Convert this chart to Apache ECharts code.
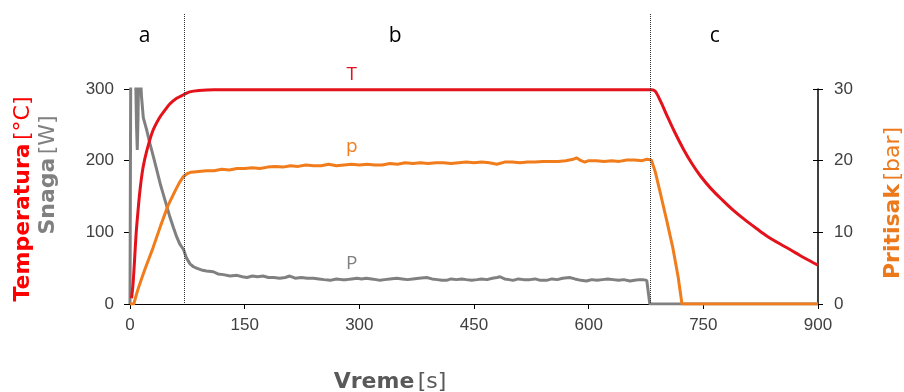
<!DOCTYPE html>
<html>
<head>
<meta charset="utf-8">
<script src="https://cdn.jsdelivr.net/npm/echarts@6/dist/echarts.min.js"></script>
<style>
  html, body { margin: 0; padding: 0; background: #fff; }
  #chart { width: 904px; height: 392px; }
</style>
</head>
<body>
<div id="chart"></div>
<script>
// Temperature T [°C] (left axis)
const tempTime  = [2, 4, 6, 8, 10, 13, 17, 22, 30, 38, 44, 52, 61, 70, 78, 90, 110, 160, 250, 350, 450, 550, 650, 682,
                   687, 694, 702, 712, 724, 735, 746, 760, 775, 789, 805, 820, 833, 850, 865, 876, 888, 900];
const tempValue = [8, 28, 62, 98, 124, 158, 190, 214, 242, 259, 268, 279, 287, 292, 296, 298, 299, 299, 299, 299, 299, 299, 299, 299,
                   297, 283, 264, 241, 216, 196, 179, 161, 145, 131, 117, 105, 95, 84, 75, 68, 61, 54];

// Pressure p [bar] (right axis)
const pressTime  = [0, 5, 7, 10, 15, 20, 30, 40, 50, 60, 65, 70, 75, 80, 90, 100, 110, 120, 130, 140, 150, 160, 170, 180, 190,
                    200, 210, 220, 230, 240, 250, 260, 270, 280, 290, 300, 310, 320, 330, 340, 350, 360, 370, 380, 390,
                    400, 410, 420, 430, 440, 450, 460, 470, 480, 490, 500, 510, 520, 530, 540, 550, 560, 570, 580, 584,
                    590, 595, 600, 610, 620, 630, 640, 650, 660, 670, 676, 682, 687, 695, 702, 710, 717, 721, 722, 900];
const pressValue = [0, 0, 0.8, 1.9, 3.5, 5.0, 7.8, 10.9, 13.8, 16.0, 17.0, 17.8, 18.2, 18.4, 18.5, 18.6, 18.6, 18.8, 18.7, 18.9, 18.9, 19.0, 18.9, 19.1, 19.2,
                    19.1, 19.3, 19.2, 19.4, 19.3, 19.3, 19.5, 19.3, 19.4, 19.5, 19.4, 19.5, 19.4, 19.4, 19.6, 19.5, 19.7, 19.6, 19.7, 19.6,
                    19.7, 19.7, 19.6, 19.7, 19.8, 19.7, 19.8, 19.7, 19.5, 19.8, 19.8, 19.7, 19.8, 19.8, 19.9, 19.9, 19.9, 20.0, 20.2, 20.4,
                    20.0, 19.8, 20.0, 20.0, 19.9, 20.0, 19.9, 20.1, 20.1, 20.0, 20.2, 20.1, 18.5, 14.9, 11.7, 7.9, 3.8, 0.8, 0, 0];

// Heater power P [W] (left axis; the start-up peaks run above the axis top)
const powerTime  = [0, 1, 7, 8.5, 9.5, 10.5, 11.5, 13, 15, 17.4, 21.8, 26, 30, 35, 40, 43, 48, 52, 57, 61, 65, 70, 74, 78.5, 83, 87, 95,
                    100, 109, 115, 122, 131, 140, 147, 153, 160, 167, 174, 181, 188, 196, 203, 209, 216, 224, 232, 240, 247, 254,
                    262, 270, 277, 283, 290, 297, 303, 309, 316, 322, 327, 333, 340, 349, 356, 363, 370, 378, 388, 395, 402, 408,
                    414, 420, 427, 434, 440, 447, 454, 460, 467, 474, 480, 484, 490, 496, 501, 508, 515, 523, 530, 537, 545, 552,
                    559, 566, 575, 582, 590, 597, 604, 611, 618, 625, 632, 639, 646, 654, 660, 666, 671, 676, 678, 680, 900];
const powerValue = [0, 340, 340, 250, 215, 260, 340, 330, 290, 260, 243, 224, 208, 187, 166, 155, 137, 122, 106, 94, 84, 76, 64, 56, 52, 50, 47,
                    46, 45, 42, 41, 39, 40, 38, 37, 39, 38, 39, 37, 37, 36, 37, 39, 36, 37, 36, 36, 35, 34,
                    33, 35, 34, 34, 35, 36, 35, 36, 35, 34, 33, 34, 35, 36, 35, 34, 35, 36, 37, 35, 34, 33,
                    33, 35, 34, 35, 34, 33, 34, 35, 34, 36, 37, 38, 35, 34, 33, 35, 34, 34, 35, 33, 33, 35,
                    34, 36, 37, 35, 33, 32, 34, 33, 34, 35, 34, 33, 34, 32, 33, 34, 34, 33, 32, 0, 0];

// Process phases: boundaries and labels
const phaseBounds = [70, 680];
const phaseLabels = ['a', 'b', 'c'];
const phaseLabelAt = [19, 347, 765];

// Curve labels
const curveLabels = ['T', 'p', 'P'];

const xTicks = [0, 150, 300, 450, 600, 750, 900];

const toPairs = (xs, ys) => xs.map((x, i) => [x, ys[i]]);

const RED = '#e3121b', ORANGE = '#f07c1c', GRAY = '#808080';
const tickFont = { fontFamily: 'Liberation Sans', fontSize: 17, color: '#404040' };

const chart = echarts.init(document.getElementById('chart'), null, { renderer: 'canvas' });

chart.setOption({
  animation: false,
  grid: { left: 130, right: 86, top: 89, bottom: 88 },
  xAxis: {
    type: 'value', min: xTicks[0], max: xTicks[xTicks.length - 1], interval: 150,
    splitLine: { show: false },
    axisLine: { lineStyle: { color: '#000', width: 1 } },
    axisTick: { show: true, length: 5, lineStyle: { color: '#000' } },
    axisLabel: Object.assign({ margin: 13 }, tickFont)
  },
  yAxis: [
    {
      type: 'value', min: 0, max: 300, interval: 100, position: 'left',
      splitLine: { show: false },
      axisLine: { show: true, lineStyle: { color: '#000', width: 1 } },
      axisTick: { show: true, length: 6, lineStyle: { color: '#000' } },
      axisLabel: Object.assign({ margin: 16 }, tickFont)
    },
    {
      type: 'value', min: 0, max: 30, interval: 10, position: 'right',
      splitLine: { show: false },
      axisLine: { show: true, lineStyle: { color: '#000', width: 1.5 } },
      axisTick: { show: true, length: 5, lineStyle: { color: '#000' } },
      axisLabel: Object.assign({ margin: 16 }, tickFont)
    },
    {
      type: 'value', min: 0, max: 30, interval: 10, position: 'right',
      splitLine: { show: false },
      axisLine: { show: false },
      axisTick: { show: true, inside: true, length: 5, lineStyle: { color: '#000' } },
      axisLabel: { show: false }
    }
  ],
  series: [
    {
      name: 'P', type: 'line', yAxisIndex: 0, showSymbol: false, clip: true,
      data: toPairs(powerTime, powerValue),
      lineStyle: { color: GRAY, width: 3 }
    },
    {
      name: 'p', type: 'line', yAxisIndex: 1, showSymbol: false, clip: true,
      data: toPairs(pressTime, pressValue),
      lineStyle: { color: ORANGE, width: 3 }
    },
    {
      name: 'T', type: 'line', yAxisIndex: 0, showSymbol: false, clip: true, smooth: 0.3,
      data: toPairs(tempTime, tempValue),
      lineStyle: { color: RED, width: 3 }
    }
  ]
});

// Phase separators, phase letters, curve labels and axis titles
const px = t => chart.convertToPixel({ xAxisIndex: 0 }, t);
const pyL = v => chart.convertToPixel({ yAxisIndex: 0 }, v);
const axisBottom = pyL(0);

const graphics = [];
phaseBounds.forEach(t => {
  const x = Math.round(px(t)) + 0.5;
  graphics.push({
    type: 'line', z: 10,
    shape: { x1: x, y1: 14, x2: x, y2: axisBottom },
    style: { stroke: '#333', lineWidth: 1, lineDash: [1, 1] }
  });
});
phaseLabels.forEach((s, i) => {
  graphics.push({
    type: 'text', x: px(phaseLabelAt[i]), y: 36,
    style: { text: s, fill: '#000', font: '21px "Open Sans"', align: 'center', verticalAlign: 'middle' }
  });
});
const labelX = px(290);
[[curveLabels[0], RED, 75], [curveLabels[1], ORANGE, 147], [curveLabels[2], GRAY, 264]].forEach(([s, c, y]) => {
  graphics.push({
    type: 'text', x: labelX, y: y,
    style: { text: s, fill: c, font: '19px "Open Sans"', align: 'center', verticalAlign: 'middle' }
  });
});

const titleFont = 'DejaVu Sans';
function title(x, y, rot, bold, normal, color, size) {
  return {
    type: 'text', x: x, y: y, rotation: rot,
    style: {
      text: '{b|' + bold + '} {n|' + normal + '}',
      align: 'center', verticalAlign: 'middle',
      rich: {
        b: { fontFamily: titleFont, fontWeight: 'bold', fontSize: size, fill: color },
        n: { fontFamily: titleFont, fontWeight: 'normal', fontSize: size, fill: color }
      }
    }
  };
}
graphics.push(title(23, 199, Math.PI / 2, 'Temperatura', '[°C]', '#ff0000', 22));
graphics.push(title(48, 175, Math.PI / 2, 'Snaga', '[W]', GRAY, 22));
graphics.push(title(893, 203, Math.PI / 2, 'Pritisak', '[bar]', '#ec7a1c', 22));
graphics.push(title(390, 382, 0, 'Vreme', '[s]', '#595959', 22));

chart.setOption({ graphic: graphics });
</script>
</body>
</html>
